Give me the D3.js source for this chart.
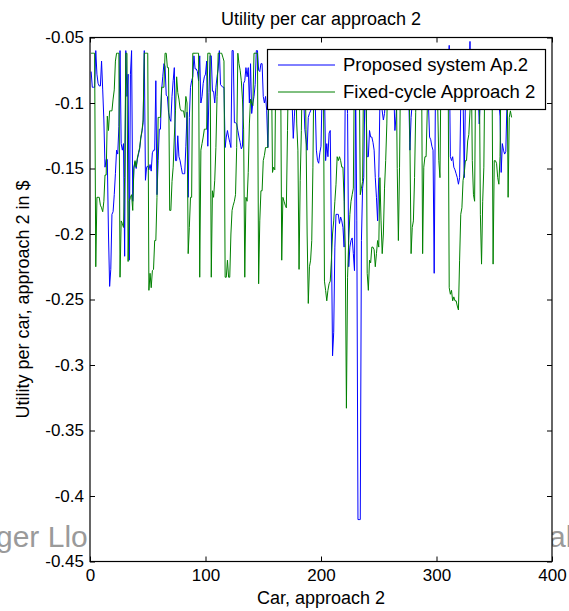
<!DOCTYPE html>
<html><head><meta charset="utf-8">
<script src="https://cdn.jsdelivr.net/npm/d3@7"></script>
<style>html,body{margin:0;padding:0;background:#fff;}svg{display:block;}text{font-family:"Liberation Sans",Arial,sans-serif;fill:#000;}</style>
</head><body>
<script>
const titleText = "Utility per car approach 2";
const xLabelText = "Car, approach 2";
const yLabelText = "Utility per car, approach 2 in $";
const seriesNames = ["Proposed system Ap.2", "Fixed-cycle Approach 2"];
const xTicks = [0, 100, 200, 300, 400];
const xTickLabels = ["0", "100", "200", "300", "400"];
const yTicks = [-0.45, -0.4, -0.35, -0.3, -0.25, -0.2, -0.15, -0.1, -0.05];
const yTickLabels = ["-0.45", "-0.4", "-0.35", "-0.3", "-0.25", "-0.2", "-0.15", "-0.1", "-0.05"];

const proposed = [
-0.076,-0.088,-0.088,-0.088,-0.060,-0.078,-0.085,-0.087,-0.087,-0.068,
-0.090,-0.113,-0.149,-0.143,-0.143,-0.200,-0.240,-0.227,-0.185,-0.183,
-0.170,-0.154,-0.136,-0.139,-0.118,-0.060,-0.131,-0.136,-0.131,-0.217,
-0.060,-0.095,-0.078,-0.220,-0.078,-0.060,-0.175,-0.150,-0.145,-0.150,
-0.143,-0.139,-0.135,-0.127,-0.122,-0.115,-0.060,-0.159,-0.149,-0.148,
-0.151,-0.147,-0.152,-0.138,-0.136,-0.136,-0.083,-0.170,-0.144,-0.120,
-0.120,-0.090,-0.080,-0.070,-0.072,-0.094,-0.095,-0.107,-0.112,-0.114,
-0.095,-0.083,-0.073,-0.144,-0.144,-0.125,-0.141,-0.144,-0.149,-0.154,
-0.154,-0.154,-0.133,-0.107,-0.172,-0.111,-0.088,-0.083,-0.080,-0.064,
-0.074,-0.074,-0.076,-0.083,-0.064,-0.100,-0.095,-0.085,-0.080,-0.078,
-0.068,-0.133,-0.092,-0.064,-0.064,-0.091,-0.091,-0.100,-0.088,-0.080,
-0.074,-0.060,-0.086,-0.087,-0.088,-0.088,-0.134,-0.126,-0.121,-0.126,
-0.130,-0.134,-0.060,-0.060,-0.115,-0.115,-0.116,-0.121,-0.126,-0.130,
-0.135,-0.133,-0.085,-0.083,-0.073,-0.080,-0.073,-0.100,-0.070,-0.108,
-0.100,-0.095,-0.086,-0.060,-0.060,-0.075,-0.076,-0.070,-0.070,-0.095,
-0.100,-0.095,-0.106,-0.134,-0.080,-0.075,-0.090,-0.085,-0.070,-0.080,
-0.090,-0.075,-0.065,-0.080,-0.085,-0.070,-0.080,-0.090,-0.075,-0.070,
-0.085,-0.080,-0.090,-0.095,-0.100,-0.127,-0.110,-0.090,-0.080,-0.085,
-0.075,-0.090,-0.085,-0.080,-0.095,-0.120,-0.128,-0.136,-0.111,-0.108,
-0.106,-0.100,-0.090,-0.085,-0.100,-0.136,-0.144,-0.146,-0.138,-0.133,
-0.090,-0.085,-0.090,-0.144,-0.131,-0.141,-0.123,-0.121,-0.200,-0.293,
-0.275,-0.210,-0.185,-0.185,-0.185,-0.192,-0.187,-0.190,-0.195,-0.210,
-0.090,-0.085,-0.108,-0.225,-0.210,-0.205,-0.203,-0.215,-0.228,-0.090,
-0.190,-0.418,-0.418,-0.418,-0.205,-0.165,-0.157,-0.090,-0.100,-0.141,
-0.141,-0.121,-0.126,-0.126,-0.130,-0.136,-0.157,-0.172,-0.190,-0.157,
-0.100,-0.090,-0.106,-0.113,-0.108,-0.095,-0.080,-0.085,-0.090,-0.075,
-0.080,-0.085,-0.090,-0.121,-0.110,-0.090,-0.085,-0.080,-0.090,-0.085,
-0.080,-0.075,-0.085,-0.090,-0.085,-0.095,-0.136,-0.111,-0.100,-0.090,
-0.085,-0.095,-0.080,-0.075,-0.085,-0.090,-0.080,-0.085,-0.090,-0.095,
-0.085,-0.080,-0.100,-0.126,-0.128,-0.133,-0.136,-0.230,-0.100,-0.085,
-0.080,-0.090,-0.085,-0.075,-0.080,-0.090,-0.085,-0.080,-0.090,-0.085,
-0.056,-0.141,-0.144,-0.141,-0.149,-0.151,-0.154,-0.157,-0.162,-0.157,
-0.100,-0.090,-0.095,-0.157,-0.100,-0.090,-0.085,-0.080,-0.053,-0.090,
-0.085,-0.090,-0.085,-0.090,-0.085,-0.090,-0.116,-0.095,-0.085,-0.080,
-0.090,-0.085,-0.080,-0.090,-0.095,-0.085,-0.080,-0.090,-0.085,-0.090,
-0.095,-0.085,-0.090,-0.100,-0.110,-0.153,-0.131,-0.136,-0.139,-0.137,
-0.100,-0.090,-0.085,-0.090,-0.095
];

const fixedCycle = [
-0.062,-0.062,-0.062,-0.062,-0.225,-0.172,-0.172,-0.172,-0.178,-0.180,
-0.183,-0.175,-0.155,-0.155,-0.110,-0.121,-0.106,-0.106,-0.106,-0.097,
-0.090,-0.068,-0.062,-0.062,-0.062,-0.233,-0.190,-0.192,-0.195,-0.157,
-0.062,-0.062,-0.221,-0.175,-0.172,-0.170,-0.182,-0.149,-0.144,-0.149,
-0.142,-0.138,-0.134,-0.126,-0.121,-0.113,-0.062,-0.062,-0.062,-0.062,
-0.243,-0.230,-0.241,-0.228,-0.227,-0.205,-0.205,-0.172,-0.111,-0.111,
-0.111,-0.088,-0.088,-0.088,-0.062,-0.062,-0.073,-0.073,-0.182,-0.182,
-0.160,-0.149,-0.126,-0.106,-0.080,-0.092,-0.097,-0.104,-0.106,-0.106,
-0.106,-0.111,-0.095,-0.100,-0.215,-0.195,-0.172,-0.172,-0.062,-0.062,
-0.062,-0.062,-0.062,-0.062,-0.233,-0.136,-0.131,-0.126,-0.120,-0.120,
-0.120,-0.062,-0.062,-0.062,-0.233,-0.167,-0.172,-0.159,-0.134,-0.095,
-0.062,-0.062,-0.062,-0.062,-0.065,-0.068,-0.233,-0.233,-0.220,-0.233,
-0.233,-0.200,-0.182,-0.178,-0.175,-0.170,-0.134,-0.062,-0.070,-0.075,
-0.083,-0.097,-0.120,-0.233,-0.172,-0.175,-0.153,-0.116,-0.097,-0.100,
-0.102,-0.062,-0.062,-0.062,-0.062,-0.238,-0.190,-0.167,-0.167,-0.144,
-0.140,-0.134,-0.134,-0.134,-0.062,-0.062,-0.062,-0.153,-0.149,-0.151,
-0.062,-0.062,-0.062,-0.062,-0.062,-0.220,-0.172,-0.175,-0.178,-0.180,
-0.121,-0.062,-0.062,-0.070,-0.062,-0.070,-0.070,-0.070,-0.116,-0.136,
-0.227,-0.159,-0.121,-0.062,-0.062,-0.062,-0.120,-0.200,-0.253,-0.225,
-0.220,-0.205,-0.149,-0.062,-0.062,-0.062,-0.062,-0.062,-0.062,-0.062,
-0.062,-0.062,-0.236,-0.243,-0.251,-0.243,-0.238,-0.236,-0.220,-0.200,
-0.190,-0.175,-0.162,-0.141,-0.144,-0.141,-0.144,-0.149,-0.149,-0.175,
-0.210,-0.333,-0.233,-0.205,-0.185,-0.175,-0.170,-0.165,-0.062,-0.062,
-0.062,-0.062,-0.062,-0.170,-0.165,-0.160,-0.062,-0.062,-0.062,-0.230,
-0.243,-0.220,-0.222,-0.210,-0.210,-0.212,-0.225,-0.215,-0.205,-0.210,
-0.157,-0.190,-0.215,-0.200,-0.165,-0.144,-0.116,-0.062,-0.062,-0.062,
-0.062,-0.062,-0.062,-0.062,-0.062,-0.150,-0.205,-0.149,-0.062,-0.062,
-0.062,-0.062,-0.062,-0.062,-0.062,-0.062,-0.130,-0.215,-0.195,-0.190,
-0.157,-0.107,-0.062,-0.062,-0.062,-0.062,-0.062,-0.215,-0.149,-0.141,
-0.141,-0.106,-0.062,-0.062,-0.062,-0.062,-0.062,-0.062,-0.062,-0.062,
-0.100,-0.144,-0.157,-0.062,-0.062,-0.062,-0.062,-0.062,-0.062,-0.062,
-0.241,-0.246,-0.243,-0.251,-0.248,-0.251,-0.251,-0.255,-0.258,-0.220,
-0.185,-0.180,-0.159,-0.154,-0.144,-0.144,-0.129,-0.124,-0.106,-0.062,
-0.144,-0.170,-0.175,-0.062,-0.062,-0.062,-0.062,-0.185,-0.223,-0.175,
-0.149,-0.062,-0.062,-0.062,-0.062,-0.062,-0.062,-0.062,-0.223,-0.144,
-0.144,-0.146,-0.157,-0.162,-0.141,-0.062,-0.062,-0.062,-0.062,-0.062,
-0.062,-0.172,-0.111,-0.106,-0.111
];
const cars = d3.range(1, proposed.length + 1);
const seriesColors = ["#0000ff", "#008000"];

const W = 569, H = 611;
const mLeft = 90, mRight = 552, mTop = 37.5, mBottom = 561.5;

const svg = d3.select("body").append("svg").attr("width", W).attr("height", H);
svg.append("rect").attr("width", W).attr("height", H).attr("fill", "#fff");

// watermark (behind the axes)
svg.append("text").attr("x", -4).attr("y", 547).attr("font-size", 30)
  .style("fill", "#9a9a9a").text("ger Llo");
svg.append("text").attr("x", 549).attr("y", 547).attr("font-size", 30)
  .style("fill", "#9a9a9a").text("al");

const x = d3.scaleLinear().domain([0, 400]).range([mLeft, mRight]);
const y = d3.scaleLinear().domain([-0.45, -0.05]).range([mBottom, mTop]);

svg.append("rect").attr("x", mLeft).attr("y", mTop).attr("width", mRight - mLeft)
  .attr("height", mBottom - mTop).attr("fill", "#fff");

svg.append("defs").append("clipPath").attr("id", "clip").append("rect")
  .attr("x", mLeft).attr("y", mTop).attr("width", mRight - mLeft).attr("height", mBottom - mTop);

const line = d3.line().x((d, i) => x(cars[i])).y(d => y(d));
const plot = svg.append("g").attr("clip-path", "url(#clip)");
[proposed, fixedCycle].forEach((s, k) => {
  plot.append("path").datum(s).attr("d", line).attr("fill", "none")
    .attr("stroke", seriesColors[k]).attr("stroke-width", 1);
});

// axes
const tickLen = 5;
const fs = 17;
const axB = svg.append("g").attr("transform", `translate(0,${mBottom})`)
  .call(d3.axisBottom(x).tickValues(xTicks).tickSize(-tickLen).tickPadding(7)
    .tickFormat((d, i) => xTickLabels[i]));
const axT = svg.append("g").attr("transform", `translate(0,${mTop})`)
  .call(d3.axisTop(x).tickValues(xTicks).tickSize(-tickLen).tickFormat(""));
const axL = svg.append("g").attr("transform", `translate(${mLeft},0)`)
  .call(d3.axisLeft(y).tickValues(yTicks).tickSize(-tickLen).tickPadding(6)
    .tickFormat((d, i) => yTickLabels[i]));
const axR = svg.append("g").attr("transform", `translate(${mRight},0)`)
  .call(d3.axisRight(y).tickValues(yTicks).tickSize(-tickLen).tickFormat(""));
[axB, axT, axL, axR].forEach(g => {
  g.select(".domain").remove();
  g.selectAll(".tick line").attr("stroke", "#000");
  g.selectAll("text").attr("font-size", fs)
    .attr("font-family", "'Liberation Sans', Arial, sans-serif");
});
svg.append("rect").attr("x", mLeft).attr("y", mTop).attr("width", mRight - mLeft)
  .attr("height", mBottom - mTop).attr("fill", "none").attr("stroke", "#000").attr("stroke-width", 1.2);

// title and labels
svg.append("text").attr("x", (mLeft + mRight) / 2).attr("y", 25).attr("text-anchor", "middle")
  .attr("font-size", 18).text(titleText);
svg.append("text").attr("x", (mLeft + mRight) / 2).attr("y", 604).attr("text-anchor", "middle")
  .attr("font-size", 18).text(xLabelText);
svg.append("text").attr("transform", `translate(29,${(mTop + mBottom) / 2}) rotate(-90)`)
  .attr("text-anchor", "middle").attr("font-size", 18).text(yLabelText);

// legend
const lg = svg.append("g");
lg.append("rect").attr("x", 267.5).attr("y", 49.5).attr("width", 278).attr("height", 60)
  .attr("fill", "#fff").attr("stroke", "#000").attr("stroke-width", 1.2);
seriesNames.forEach((n, k) => {
  const yy = 65 + k * 27;
  lg.append("line").attr("x1", 278).attr("x2", 335).attr("y1", yy).attr("y2", yy)
    .attr("stroke", seriesColors[k]).attr("stroke-width", 1);
  lg.append("text").attr("x", 343).attr("y", yy).attr("dy", "0.35em")
    .attr("font-size", 18.5).text(n);
});
</script>
</body></html>
